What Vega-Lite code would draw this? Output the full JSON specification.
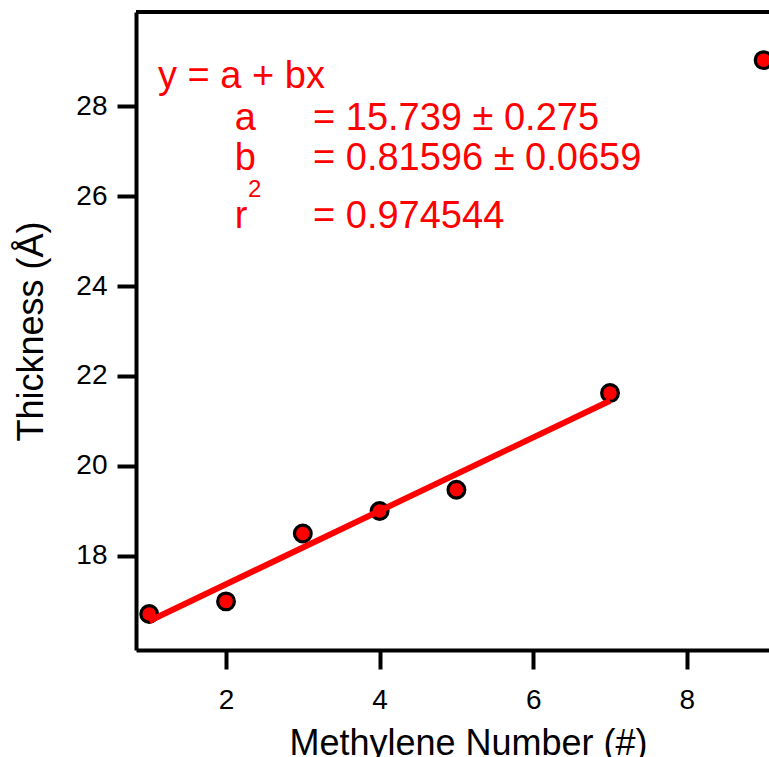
{
  "$schema": "https://vega.github.io/schema/vega-lite/v6.json",
  "width": 633,
  "height": 638,
  "autosize": {"type": "none"},
  "padding": {"left": 136, "top": 12, "right": 0, "bottom": 107},
  "background": "white",
  "config": {
    "view": {"stroke": null},
    "font": "Liberation Sans"
  },
  "datasets": {
    "points": [
      {"n": 1, "t": 16.71},
      {"n": 2, "t": 16.99},
      {"n": 3, "t": 18.5},
      {"n": 4, "t": 19.0},
      {"n": 5, "t": 19.47},
      {"n": 7, "t": 21.62},
      {"n": 9, "t": 29.02}
    ],
    "fit": [
      {"n": 1, "t": 16.555},
      {"n": 7, "t": 21.451}
    ],
    "frame": [
      {"t": 30.09}
    ],
    "labels": [
      {"n": 1.115, "t": 28.4, "label": "y = a + bx"},
      {"n": 2.115, "t": 27.47, "label": "a"},
      {"n": 3.133, "t": 27.47, "label": "= 15.739 ± 0.275"},
      {"n": 2.115, "t": 26.58, "label": "b"},
      {"n": 3.133, "t": 26.58, "label": "= 0.81596 ± 0.0659"},
      {"n": 2.115, "t": 25.29, "label": "r"},
      {"n": 3.133, "t": 25.29, "label": "= 0.974544"}
    ],
    "sup": [
      {"n": 2.286, "t": 25.98, "label": "2"}
    ]
  },
  "encoding": {
    "y": {
      "field": "t", "type": "quantitative",
      "scale": {"domain": [15.91, 30.09], "nice": false, "zero": false},
      "axis": {
        "orient": "left",
        "values": [18, 20, 22, 24, 26, 28],
        "format": "~g",
        "grid": false,
        "domainColor": "black", "domainWidth": 4,
        "tickColor": "black", "tickWidth": 4, "tickSize": 19,
        "labelColor": "black", "labelFont": "Liberation Sans", "labelFontSize": 28,
        "labelPadding": 10,
        "title": "Thickness (Å)",
        "titleColor": "black", "titleFont": "Liberation Sans", "titleFontSize": 36, "titleFontWeight": "normal",
        "titleX": -94,
        "titleY": 319,
        "titleAngle": -90,
        "titleAlign": "center",
        "titleBaseline": "alphabetic"
      }
    }
  },
  "layer": [
    {
      "data": {"name": "frame"},
      "mark": {"type": "rule", "color": "black", "strokeWidth": 4},
      "encoding": {}
    },
    {
      "data": {"name": "points"},
      "mark": {"type": "point", "shape": "circle", "filled": true, "fill": "#ff0000", "stroke": "black", "strokeWidth": 3.2, "size": 280, "opacity": 1},
      "encoding": {
        "x": {
          "field": "n", "type": "quantitative",
          "scale": {"domain": [0.828, 9.07], "nice": false, "zero": false},
          "axis": {
            "orient": "bottom",
            "values": [2, 4, 6, 8],
            "format": "~g",
            "grid": false,
            "domainColor": "black", "domainWidth": 4,
            "tickColor": "black", "tickWidth": 4, "tickSize": 19,
            "labelColor": "black", "labelFont": "Liberation Sans", "labelFontSize": 28,
            "labelBaseline": "alphabetic",
            "labelPadding": 39,
            "title": "Methylene Number (#)",
            "titleColor": "black", "titleFont": "Liberation Sans", "titleFontSize": 36, "titleFontWeight": "normal",
            "titleX": 332,
            "titleY": 104,
            "titleAlign": "center",
            "titleBaseline": "alphabetic"
          }
        }
      }
    },
    {
      "data": {"name": "fit"},
      "mark": {"type": "line", "color": "#ff0000", "strokeWidth": 6, "strokeCap": "butt"},
      "encoding": {
        "x": {"field": "n", "type": "quantitative", "title": "Methylene Number (#)", "axis": {"format": "~g"}}
      }
    },
    {
      "data": {"name": "labels"},
      "mark": {"type": "text", "align": "left", "baseline": "alphabetic", "fontSize": 38, "color": "#ff0000", "font": "Liberation Sans"},
      "encoding": {
        "x": {"field": "n", "type": "quantitative", "title": "Methylene Number (#)", "axis": {"format": "~g"}},
        "text": {"field": "label"}
      }
    },
    {
      "data": {"name": "sup"},
      "mark": {"type": "text", "align": "left", "baseline": "alphabetic", "fontSize": 24, "color": "#ff0000", "font": "Liberation Sans"},
      "encoding": {
        "x": {"field": "n", "type": "quantitative", "title": "Methylene Number (#)", "axis": {"format": "~g"}},
        "text": {"field": "label"}
      }
    }
  ]
}
